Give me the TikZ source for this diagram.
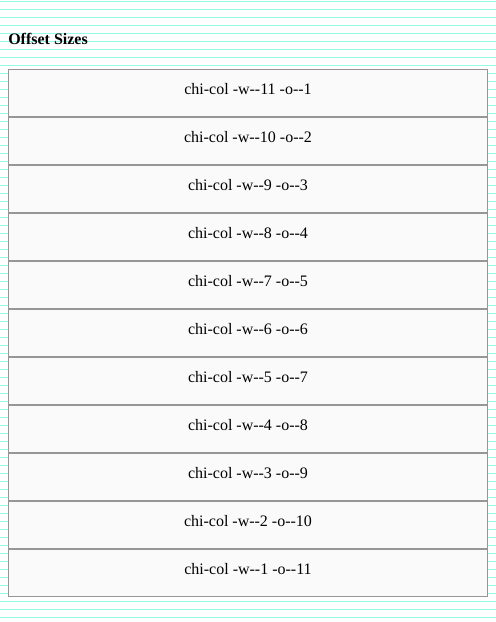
\documentclass[tikz,border=0pt]{standalone}
\usepackage{fontspec}
\setmainfont[Ligatures=NoCommon]{Liberation Serif}
\definecolor{ruleline}{RGB}{150,250,240}
\definecolor{boxborder}{RGB}{150,150,150}
\definecolor{boxfill}{RGB}{250,250,250}
\begin{document}
\begin{tikzpicture}[x=0.75pt,y=-0.75pt,
  ruled/.style={draw=ruleline,line width=0.75pt},
  rowbox/.style={draw=boxborder,fill=boxfill,line width=0.75pt,rectangle,
    minimum width=359.25pt,minimum height=35.25pt,inner sep=0pt,outer sep=0pt,anchor=north west},
  rowtext/.style={anchor=base,inner sep=0pt,font=\fontsize{12}{14}\selectfont},
  titletext/.style={anchor=base west,inner sep=0pt,font=\fontsize{12}{14}\selectfont\bfseries}]
\useasboundingbox (0,0) rectangle (496,622);
\fill[white] (0,0) rectangle (496,622);
\foreach \k in {0,...,77} \draw[ruled] (0,1.5+8*\k) -- (496,1.5+8*\k);
\node[titletext] (title) at (8,44) {Offset Sizes};
\foreach \w/\o [count=\i from 0] in {11/1,10/2,9/3,8/4,7/5,6/6,5/7,4/8,3/9,2/10,1/11}{
  \node[rowbox] (box\i) at (8.5,69.5+48*\i) {};
  \node[rowtext] (label\i) at (248,94.5+48*\i) {chi-col -w-{}-\w{} -o-{}-\o};
}
\end{tikzpicture}
\end{document}
